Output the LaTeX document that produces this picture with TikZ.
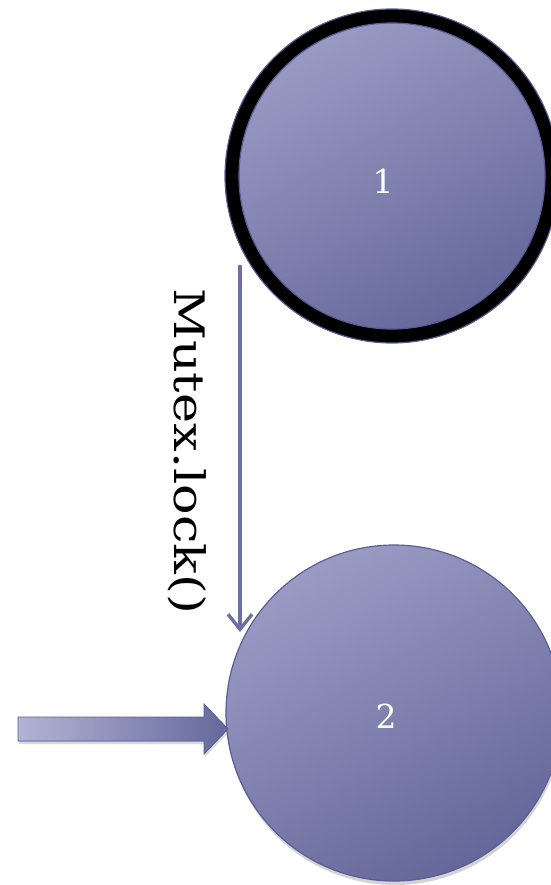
\documentclass[tikz,border=0pt]{standalone}
\usepackage{fontspec}
\setmainfont{DejaVu Serif}
\usetikzlibrary{shapes.geometric,arrows.meta,shadows}
\definecolor{cLight}{HTML}{9A9BC4}
\definecolor{cDark}{HTML}{65679A}
\definecolor{cRim}{HTML}{5B5D95}
\definecolor{cLine}{HTML}{6C6FA4}
\definecolor{aLight}{HTML}{B2B4D4}
\definecolor{aDark}{HTML}{65689C}
\tikzset{
  bubble/.style={circle, inner sep=0pt, top color=cLight, bottom color=cDark, shading angle=30,
    drop shadow={shadow xshift=1pt, shadow yshift=-4pt, opacity=0.35}},
  numtxt/.style={text=white, font=\fontsize{33}{33}\selectfont, inner sep=0pt},
  rim/.style={draw=cRim, line width=1.2pt},
  conn/.style={draw=cLine, line width=3.4pt, -{Straight Barb[length=15pt,width=24pt]}},
  lbl/.style={font=\fontsize{42}{42}\selectfont, text=black, inner sep=0pt}
}
\begin{document}
\begin{tikzpicture}[x=1pt,y=-1pt]
\useasboundingbox (0,0) rectangle (550,885);
% state 1 (with black ring)
\node[bubble, minimum size=320pt, draw=black, line width=14pt] (c1) at (392,176) {};
\draw[rim] (c1.center) circle [radius=167pt];
\draw[rim] (c1.center) circle [radius=153pt];
\node[numtxt] (n1) at (383,181) {1};
% state 2
\node[bubble, rim, minimum size=336pt] (c2) at (394,713) {};
\node[numtxt] (n2) at (386,716) {2};
% transition
\coordinate (a1) at (240,265);
\coordinate (a2) at (240,632);
\draw[conn] (a1) -- (a2);
\node[lbl, rotate=-90] (lab) at (187,451) {\scalebox{1.21}[1]{Mutex.lock()}};
% initial block arrow
\coordinate (tip) at (228,729);
\fill[left color=aLight, right color=aDark, draw=cRim, line width=0.8pt,
  drop shadow={shadow xshift=1pt, shadow yshift=-3pt, opacity=0.3}]
  (18,717) -- (204,717) -- (204,704) -- (tip) -- (204,754) -- (204,741) -- (18,741) -- cycle;
\end{tikzpicture}
\end{document}
